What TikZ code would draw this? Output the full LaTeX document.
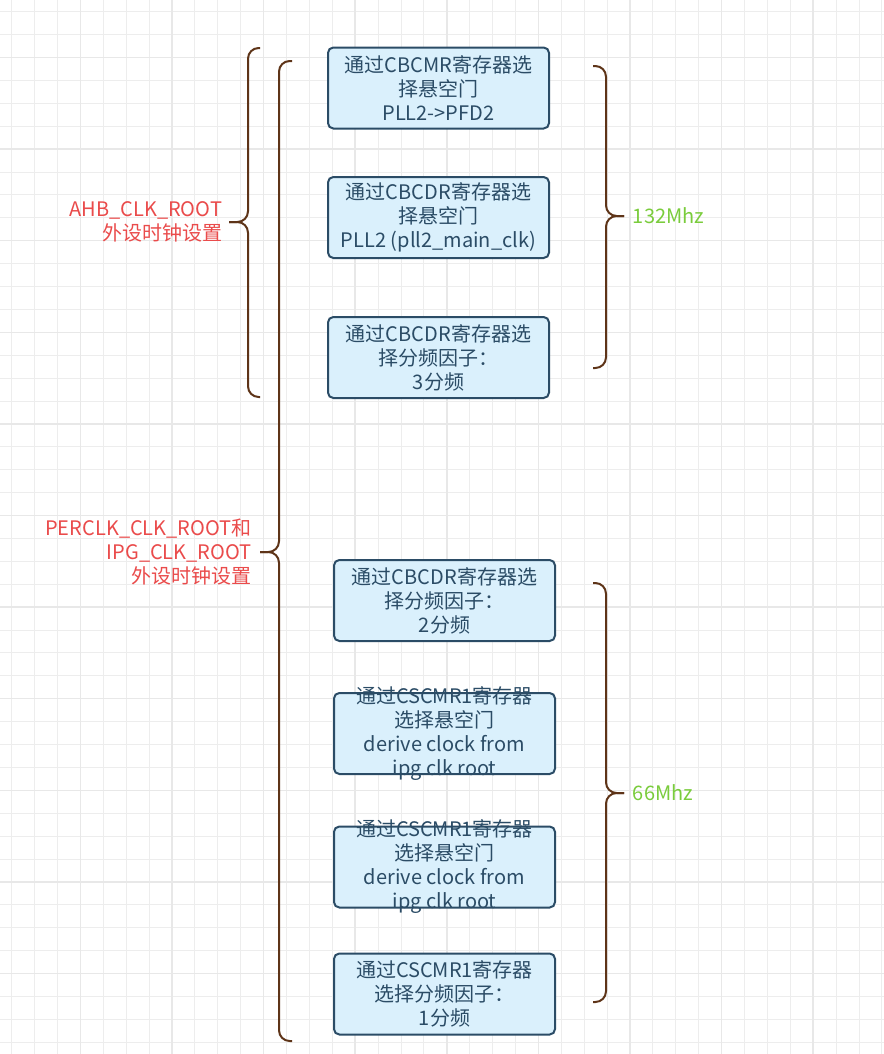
\documentclass[tikz,border=0pt]{standalone}
\usepackage{fontspec}
\setmainfont{Noto Sans CJK SC}
\usepackage{xcolor}
\usetikzlibrary{positioning}
\newlength{\pxu}
\setlength{\pxu}{0.75pt}
\newcommand{\regfont}{\fontsize{15pt}{18pt}\selectfont}
\definecolor{boxfill}{HTML}{DAF0FC}
\definecolor{boxline}{HTML}{2B4C66}
\definecolor{bracecol}{HTML}{5E3418}
\definecolor{labred}{HTML}{EA4B4B}
\definecolor{labgreen}{HTML}{7ACC3C}
\tikzset{
  regbox/.style={draw=boxline, fill=boxfill, line width=1.5pt, rounded corners=4pt, minimum width=221\pxu, minimum height=81\pxu, align=center, text=boxline, inner sep=0pt, font=\regfont},
  regtext/.style={align=center, text=boxline, inner sep=0pt, font=\regfont},
  redlabel/.style={align=right, text=labred, inner sep=0pt, font=\regfont},
  greenlabel/.style={align=left, text=labgreen, inner sep=0pt, font=\regfont},
  curly/.style={draw=bracecol, line width=1.5pt, rounded corners=8pt},
  minorgrid/.style={draw=black!7, line width=0.75pt},
  majorgrid/.style={draw=black!9, line width=1.1pt}
}

\begin{document}
\begin{tikzpicture}[x=0.75pt, y=-0.75pt]

% Background and grid
\useasboundingbox[fill=white] (0,0) rectangle (884,1054);
\foreach \k in {0,...,38} \draw[minorgrid] ({11.7+22.9*\k},0) -- ++(0,1054);
\foreach \k in {0,...,45} \draw[minorgrid] (0,{11.7+22.9*\k}) -- ++(884,0);
\foreach \k in {3,7,...,35} \draw[majorgrid] ({11.7+22.9*\k},0) -- ++(0,1054);
\foreach \k in {2,6,...,42} \draw[majorgrid] (0,{11.7+22.9*\k}) -- ++(884,0);

% Register boxes
\node[regbox] (b1) at (438.5,88) {通过CBCMR寄存器选\\择悬空门\\PLL2->PFD2};
\node[regbox] (b2) at (438.5,217.5) {通过CBCDR寄存器选\\择悬空门\\PLL2 (pll2\_main\_clk)};
\node[regbox] (b3) at (438.5,357.5) {通过CBCDR寄存器选\\择分频因子：\\3分频};
\node[regbox] (b4) at (444.5,600.5) {通过CBCDR寄存器选\\择分频因子：\\2分频};
\node[regbox] (b5) at (444.5,733.5) {};
\node[regtext] (t5) at (b5) {通过CSCMR1寄存器\\选择悬空门\\derive clock from\\ipg clk root};
\node[regbox] (b6) at (444.5,867) {};
\node[regtext] (t6) at (b6) {通过CSCMR1寄存器\\选择悬空门\\derive clock from\\ipg clk root};
\node[regbox] (b7) at (444.5,994) {通过CSCMR1寄存器\\选择分频因子：\\1分频};

% Braces
\draw[curly] (260,48) -| (248,222) -- (229,222);
\draw[curly] (229,222) -- (248,222) |- (260,397);
\draw[curly] (292,61) -| (279,552) -- (260,552);
\draw[curly] (260,552) -- (279,552) |- (292,1041);
\draw[curly] (593,66) -| (606,216) -- (624,216);
\draw[curly] (624,216) -- (606,216) |- (593,368);
\draw[curly] (593,583) -| (606,793) -- (624,793);
\draw[curly] (624,793) -- (606,793) |- (593,1002);

% Brace tips and labels
\coordinate (ahbtip) at (229,222);
\coordinate (pertip) at (260,552);
\coordinate (fasttip) at (624,216);
\coordinate (slowtip) at (624,793);
\node[redlabel, left=5pt of ahbtip] (ahb) {AHB\_CLK\_ROOT\\外设时钟设置};
\node[redlabel, left=6pt of pertip] (per) {PERCLK\_CLK\_ROOT和\\IPG\_CLK\_ROOT\\外设时钟设置};
\node[greenlabel, right=6.5pt of fasttip] (f132) {132Mhz};
\node[greenlabel, right=6.5pt of slowtip] (f66) {66Mhz};

\end{tikzpicture}
\end{document}
